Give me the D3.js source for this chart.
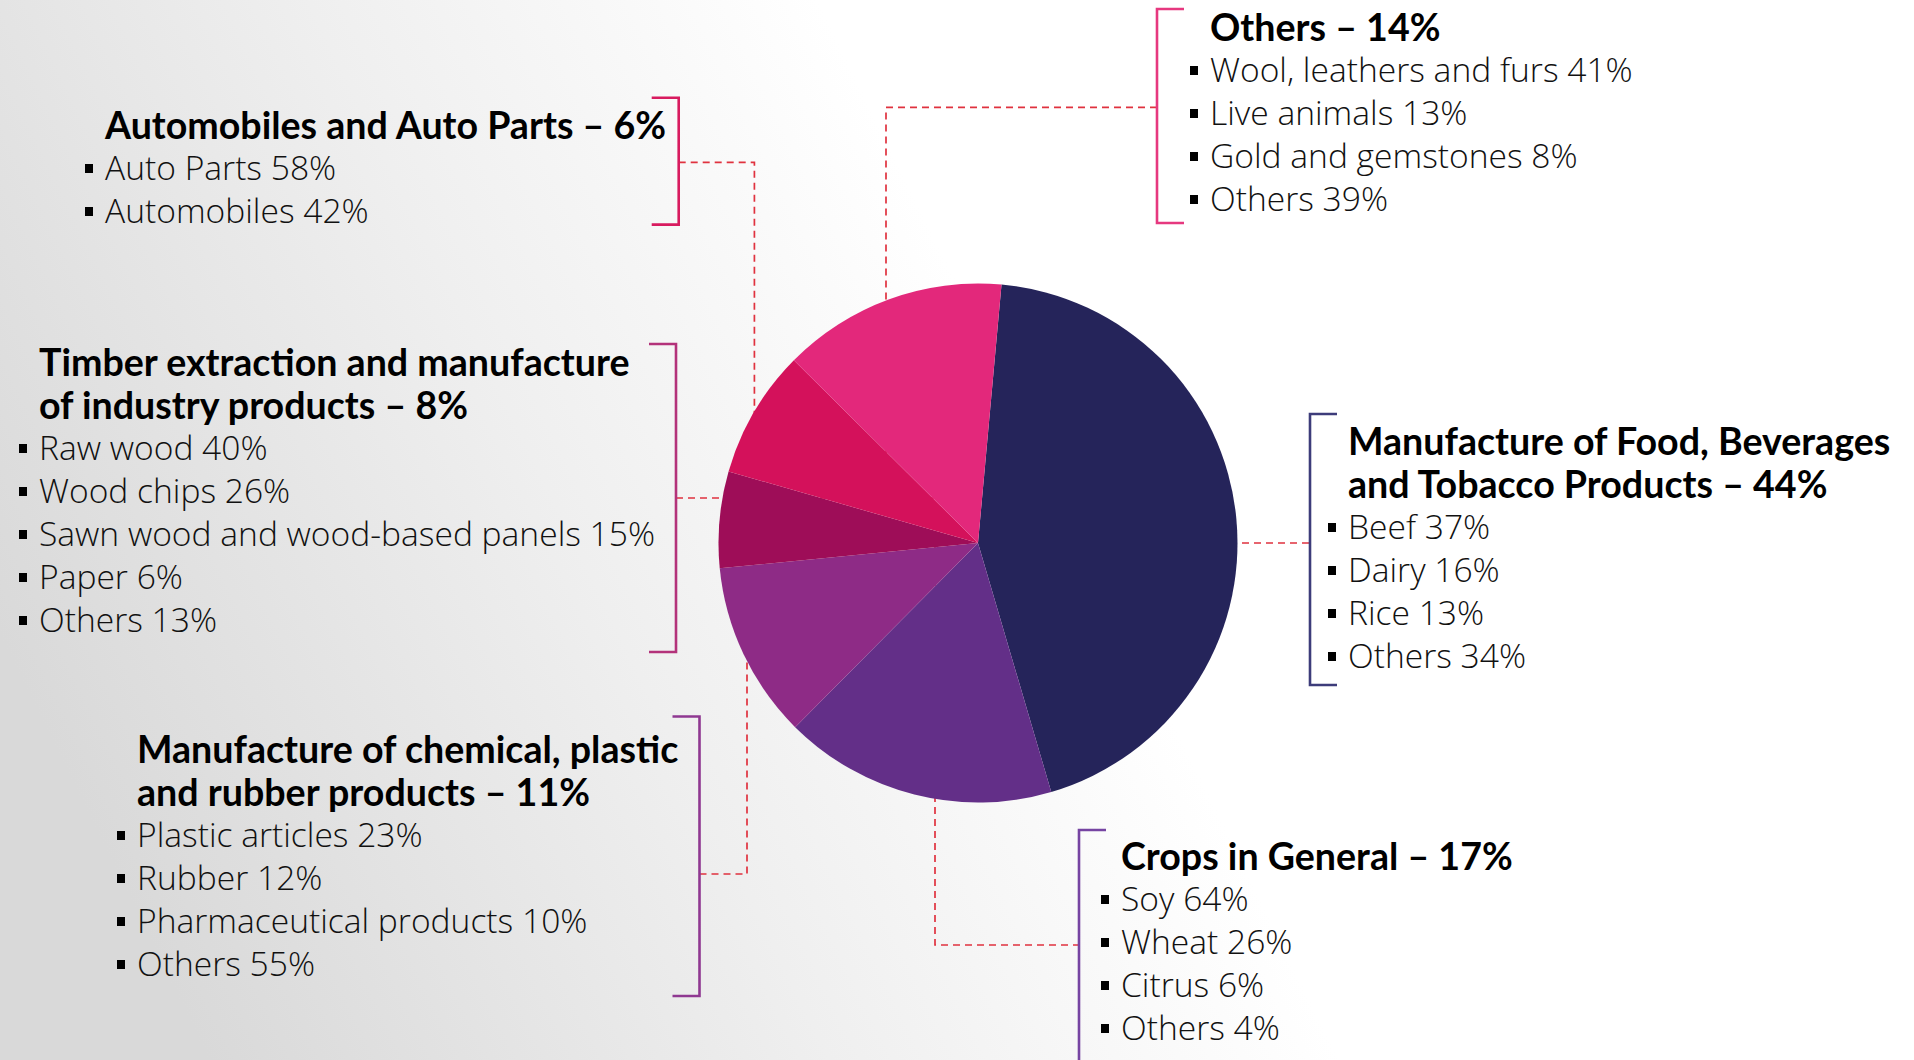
<!DOCTYPE html>
<html><head><meta charset="utf-8">
<script src="https://cdn.jsdelivr.net/npm/d3@7"></script>
<style>body{margin:0;overflow:hidden;background:#fff}</style>
</head><body>
<svg id="chart" width="1914" height="1060"></svg>
<script>
// ---- data ----
const sectors = ["Food", "Crops", "Chemical", "Auto", "Timber", "Others"];
const shares = [44, 17, 11, 6, 8, 14];
const titleFood = ["Manufacture of Food, Beverages", "and Tobacco Products – 44%"];
const titleCrops = ["Crops in General – 17%"];
const titleChemical = ["Manufacture of chemical, plastic", "and rubber products – 11%"];
const titleAuto = ["Automobiles and Auto Parts – 6%"];
const titleTimber = ["Timber extraction and manufacture", "of industry products – 8%"];
const titleOthers = ["Others – 14%"];
const itemsFood = ["Beef", "Dairy", "Rice", "Others"];
const valuesFood = [37, 16, 13, 34];
const itemsCrops = ["Soy", "Wheat", "Citrus", "Others"];
const valuesCrops = [64, 26, 6, 4];
const itemsChemical = ["Plastic articles", "Rubber", "Pharmaceutical products", "Others"];
const valuesChemical = [23, 12, 10, 55];
const itemsAuto = ["Auto Parts", "Automobiles"];
const valuesAuto = [58, 42];
const itemsTimber = ["Raw wood", "Wood chips", "Sawn wood and wood-based panels", "Paper", "Others"];
const valuesTimber = [40, 26, 15, 6, 13];
const itemsOthers = ["Wool, leathers and furs", "Live animals", "Gold and gemstones", "Others"];
const valuesOthers = [41, 13, 8, 39];

// ---- styling / layout ----
const sliceColors = ["#25245a", "#632f88", "#8e2b86", "#9e0d58", "#d4115b", "#e3287b"];
const bracketColors = {Food:"#3d3c7a", Crops:"#7644a2", Chemical:"#8f3891", Auto:"#d81b5f", Timber:"#b3327a", Others:"#e6387f"};
const W = 1914, H = 1060;
const cx = 978, cy = 543, R = 259.5;
const LH = 43;
const titleFont = "Lato, 'Open Sans', sans-serif";
const itemFont = "'Open Sans', 'Noto Sans', sans-serif";
const titleSize = 37.6, itemSize = 33.6;

const blocks = [
  {key:"Food", title:titleFood, items:itemsFood, values:valuesFood, tx:1348, ty:453,
   bx:1310, btop:414, bbot:685, side:"right", conn:[[cx,543],[1310,543]]},
  {key:"Crops", title:titleCrops, items:itemsCrops, values:valuesCrops, tx:1121, ty:868,
   bx:1079, btop:830, bbot:1075, side:"right", conn:[[935,cy],[935,945],[1079,945]]},
  {key:"Chemical", title:titleChemical, items:itemsChemical, values:valuesChemical, tx:137, ty:761,
   bx:699.5, btop:716.5, bbot:996, side:"left", conn:[[699.5,874],[747,874],[747,cy]]},
  {key:"Auto", title:titleAuto, items:itemsAuto, values:valuesAuto, tx:105, ty:137,
   bx:678.7, btop:97.7, bbot:224.6, side:"left", conn:[[678.7,162.4],[754.4,162.4],[754.4,cy]]},
  {key:"Timber", title:titleTimber, items:itemsTimber, values:valuesTimber, tx:39, ty:374,
   bx:676, btop:344, bbot:652, side:"left", conn:[[676,498],[cx,498]]},
  {key:"Others", title:titleOthers, items:itemsOthers, values:valuesOthers, tx:1210, ty:39,
   bx:1157, btop:9, bbot:223, side:"right", conn:[[1157,107.4],[886,107.4],[886,cy]]}
];

const svg = d3.select("#chart");
const defs = svg.append("defs");
const grad = defs.append("linearGradient").attr("id","bg")
  .attr("x1","0").attr("y1","0.6").attr("x2","0.55").attr("y2","0.45");
grad.append("stop").attr("offset","0").attr("stop-color","#d9d9d9");
grad.append("stop").attr("offset","0.55").attr("stop-color","#efefef");
grad.append("stop").attr("offset","1").attr("stop-color","#ffffff");
svg.append("rect").attr("width",W).attr("height",H).attr("fill","url(#bg)");

// connectors (under pie)
const line = d3.line();
svg.append("g").selectAll("path").data(blocks).join("path")
  .attr("d", d => line(d.conn))
  .attr("fill","none").attr("stroke","#e0323f").attr("stroke-width",1.7)
  .attr("stroke-dasharray","7,5");

// pie
const start = 5.2 * Math.PI / 180;
const pie = d3.pie().sort(null).value(d => d.v).startAngle(start).endAngle(start + 2*Math.PI);
const arc = d3.arc().innerRadius(0).outerRadius(R);
const slices = pie(sectors.map((s,i) => ({s, v: shares[i], c: sliceColors[i]})));
svg.append("g").attr("transform",`translate(${cx},${cy})`)
  .selectAll("path").data(slices).join("path")
  .attr("d", arc).attr("fill", d => d.data.c);

// brackets
const tick = 27;
blocks.forEach(b => {
  const dir = b.side === "right" ? 1 : -1;
  svg.append("path")
    .attr("d", `M${b.bx + dir*tick},${b.btop} H${b.bx} V${b.bbot} H${b.bx + dir*tick}`)
    .attr("fill","none").attr("stroke", bracketColors[b.key]).attr("stroke-width",2.6);
});

// text blocks
blocks.forEach(b => {
  const g = svg.append("g");
  b.title.forEach((t,i) => {
    g.append("text").attr("x", b.tx).attr("y", b.ty + 2 + i*LH)
      .attr("font-family", titleFont).attr("font-weight", 700)
      .attr("font-size", titleSize).attr("fill","#000").text(t);
  });
  const y0 = b.ty + b.title.length*LH;
  b.items.forEach((t,i) => {
    const y = y0 + i*LH;
    g.append("rect").attr("x", b.tx - 20).attr("y", y - 16).attr("width",8).attr("height",9).attr("fill","#000");
    g.append("text").attr("x", b.tx).attr("y", y)
      .attr("font-family", itemFont).attr("font-weight", 300)
      .attr("font-size", itemSize).attr("fill","#111").text(`${t} ${b.values[i]}%`);
  });
});
</script>
</body></html>
